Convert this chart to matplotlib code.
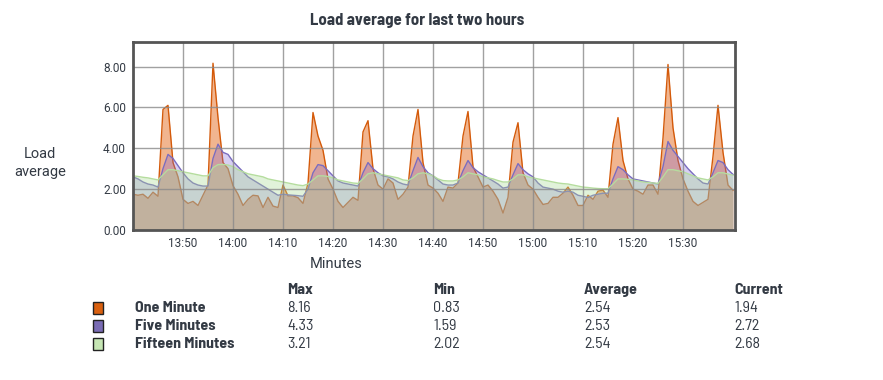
import matplotlib
matplotlib.use("Agg")
import matplotlib.pyplot as plt

# ---------------- data ----------------
minutes = list(range(0, 121))  # minutes after 13:40

one_minute = [
    1.75, 1.70, 1.75, 1.55, 1.85, 1.65, 5.90, 6.10, 3.30, 2.60,
    1.50, 1.30, 1.40, 1.20, 1.70, 2.20, 8.16, 5.50, 3.30, 3.00,
    2.17, 1.75, 1.20, 1.50, 1.70, 1.67, 1.10, 1.60, 1.17, 1.10,
    2.20, 1.67, 1.67, 1.58, 1.30, 2.30, 5.75, 4.60, 3.90, 2.50,
    2.00, 1.40, 1.10, 1.35, 1.60, 1.45, 4.80, 5.35, 3.00, 2.20,
    2.00, 2.50, 2.30, 1.50, 1.75, 2.10, 4.60, 5.90, 3.30, 2.20,
    2.05, 1.80, 1.40, 2.10, 2.05, 2.30, 4.60, 5.80, 3.10, 2.60,
    2.10, 2.20, 1.90, 1.50, 0.83, 1.60, 4.30, 5.25, 2.80, 2.20,
    2.00, 1.60, 1.25, 1.30, 1.60, 1.60, 1.80, 2.10, 1.70, 1.20,
    1.20, 1.70, 1.50, 1.90, 1.95, 1.60, 4.20, 5.50, 3.40, 2.50,
    2.00, 1.90, 1.75, 2.20, 2.20, 1.75, 4.50, 8.10, 5.00, 3.40,
    2.50, 1.90, 1.40, 1.20, 1.35, 1.50, 3.60, 6.10, 3.80, 2.20,
    1.94,
]

five_minutes = [
    2.60, 2.50, 2.35, 2.25, 2.20, 2.10, 3.00, 3.70, 3.50, 3.15,
    2.80, 2.50, 2.30, 2.20, 2.15, 2.15, 3.50, 4.20, 3.80, 3.70,
    3.35, 3.10, 2.85, 2.60, 2.45, 2.30, 2.15, 2.00, 1.85, 1.70,
    1.75, 1.72, 1.70, 1.68, 1.65, 2.00, 2.80, 3.20, 3.15, 2.90,
    2.65, 2.40, 2.30, 2.25, 2.20, 2.15, 2.80, 3.30, 3.00, 2.80,
    2.65, 2.60, 2.50, 2.35, 2.25, 2.20, 2.90, 3.55, 3.10, 2.80,
    2.65, 2.45, 2.25, 2.20, 2.20, 2.30, 2.90, 3.40, 3.05, 2.85,
    2.70, 2.55, 2.40, 2.25, 2.05, 2.10, 2.70, 3.25, 2.95, 2.75,
    2.60, 2.30, 2.10, 2.05, 2.00, 1.90, 1.85, 1.90, 1.85, 1.70,
    1.65, 1.59, 1.70, 1.75, 1.80, 1.80, 2.50, 3.10, 2.95, 2.70,
    2.50, 2.45, 2.40, 2.35, 2.30, 2.25, 3.10, 4.33, 3.90, 3.60,
    3.30, 3.00, 2.75, 2.50, 2.30, 2.25, 2.80, 3.40, 3.30, 2.95,
    2.72,
]

fifteen_minutes = [
    2.65, 2.62, 2.58, 2.55, 2.50, 2.45, 2.70, 2.95, 2.95, 2.90,
    2.85, 2.80, 2.75, 2.70, 2.65, 2.65, 3.05, 3.20, 3.21, 3.18,
    3.10, 2.95, 2.85, 2.75, 2.70, 2.65, 2.60, 2.50, 2.45, 2.40,
    2.35, 2.30, 2.25, 2.20, 2.17, 2.25, 2.45, 2.65, 2.65, 2.62,
    2.55, 2.45, 2.40, 2.35, 2.30, 2.28, 2.50, 2.75, 2.80, 2.75,
    2.70, 2.65, 2.60, 2.55, 2.45, 2.42, 2.55, 2.75, 2.80, 2.75,
    2.65, 2.50, 2.42, 2.40, 2.40, 2.45, 2.60, 2.80, 2.75, 2.70,
    2.60, 2.55, 2.50, 2.42, 2.35, 2.35, 2.50, 2.70, 2.70, 2.60,
    2.55, 2.50, 2.45, 2.40, 2.35, 2.30, 2.27, 2.25, 2.20, 2.15,
    2.10, 2.08, 2.05, 2.03, 2.02, 2.02, 2.25, 2.50, 2.50, 2.48,
    2.45, 2.40, 2.35, 2.33, 2.30, 2.28, 2.60, 2.95, 2.95, 2.90,
    2.85, 2.75, 2.65, 2.55, 2.50, 2.45, 2.60, 2.80, 2.80, 2.74,
    2.68,
]

x_tick_pos = [10, 20, 30, 40, 50, 60, 70, 80, 90, 100, 110]
x_tick_labels = ["13:50", "14:00", "14:10", "14:20", "14:30", "14:40",
                 "14:50", "15:00", "15:10", "15:20", "15:30"]
y_ticks = [0, 2, 4, 6, 8]

series_names = ["One Minute", "Five Minutes", "Fifteen Minutes"]
stat_headers = ["Max", "Min", "Average", "Current"]
stat_values = [
    ["8.16", "0.83", "2.54", "1.94"],
    ["4.33", "1.59", "2.53", "2.72"],
    ["3.21", "2.02", "2.54", "2.68"],
]

# ---------------- style ----------------
COND = ['Barlow Semi Condensed', 'DejaVu Sans']
PLAIN = ['Roboto', 'DejaVu Sans']
plt.rcParams['font.family'] = COND

fill_colors = [(0.90, 0.47, 0.20), (0.49, 0.38, 0.83), (0.67, 0.86, 0.59)]
fill_alpha = [0.55, 0.30, 0.35]
line_colors = ['#d45a0a', '#7a6cc0', '#b5dd9e']
legend_colors = ['#d9600f', '#7a6cb5', '#c6e6b4']
text_col = '#333a44'

fig = plt.figure(figsize=(8.83, 3.80), dpi=100)
ax = fig.add_axes([133/883, 1 - 230/380, 602/883, 188/380])

series = [one_minute, five_minutes, fifteen_minutes]
for s, fc, a, lc in zip(series, fill_colors, fill_alpha, line_colors):
    ax.fill_between(minutes, 0, s, color=fc, alpha=a, linewidth=0, zorder=2)
    ax.plot(minutes, s, color=lc, linewidth=1.0, zorder=2)

ax.set_xlim(0, 120.4)
ax.set_ylim(0, 9.2)
ax.set_xticks(x_tick_pos)
ax.set_xticklabels(x_tick_labels, family=PLAIN)
ax.set_yticks(y_ticks)
ax.set_yticklabels([f"{v:.2f}" for v in y_ticks], family=PLAIN)
ax.grid(True, color='#8a8a8a', linewidth=1.0, alpha=0.8, zorder=3)
ax.set_axisbelow(False)
ax.tick_params(axis='both', length=0, labelsize=8.5, colors=text_col, pad=5)
for sp in ax.spines.values():
    sp.set_color('#555555')
    sp.set_linewidth(2.0)
    sp.set_zorder(4)

fig.text(417/883, 1 - 21/380, "Load average for last two hours", ha='center', va='center',
         fontsize=12, fontweight='bold', color=text_col)
fig.text(40/883, 1 - 163/380, "Load\naverage", ha='center', va='center',
         fontsize=10.5, color=text_col, linespacing=1.45, family=PLAIN)
fig.text(336/883, 1 - 264/380, "Minutes", ha='center', va='center',
         fontsize=10.5, color=text_col, family=PLAIN)

# legend table
col_x = [287, 433, 584, 734]
header_y = 290
row_y = [308, 326, 344]
for cx, h in zip(col_x, stat_headers):
    fig.text(cx/883, 1 - header_y/380, h, ha='left', va='center', fontsize=11.5,
             fontweight='bold', color=text_col)
for ry, name, col, vals in zip(row_y, series_names, legend_colors, stat_values):
    fig.patches.append(plt.Rectangle((93/883, 1 - (ry + 6)/380), 10/883, 12/380,
                                     transform=fig.transFigure, facecolor=col,
                                     edgecolor='#222222', linewidth=1.0))
    fig.text(135/883, 1 - ry/380, name, ha='left', va='center', fontsize=11.5,
             fontweight='bold', color=text_col)
    for cx, v in zip(col_x, vals):
        fig.text(cx/883, 1 - ry/380, v, ha='left', va='center', fontsize=11.5,
                 color=text_col)

fig.savefig("out.png", dpi=100, facecolor='white')
